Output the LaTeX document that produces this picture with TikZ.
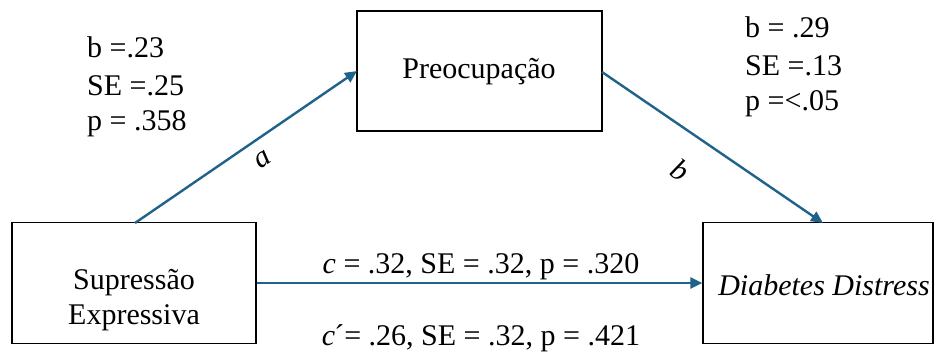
\documentclass[tikz,border=0pt]{standalone}
\usepackage{fontspec}
\setmainfont{Liberation Serif}
\usetikzlibrary{arrows.meta}
\definecolor{linkblue}{RGB}{31,99,138}
\begin{document}
\begin{tikzpicture}[x=1pt,y=-1pt,
  box/.style={draw=black,line width=1.4pt,inner sep=0pt},
  link/.style={draw=linkblue,line width=2.4pt,-{Triangle[length=12pt,width=11pt]}},
  txt/.style={inner sep=0pt,font=\fontsize{30}{35}\selectfont},
  stat/.style={txt,anchor=base west,align=left}]
\path[use as bounding box] (0,0) rectangle (935,351);
\node[box,minimum width=244pt,minimum height=121pt] (sup) at (134,283) {};
\node[box,minimum width=245pt,minimum height=120pt] (pre) at (479.5,71) {};
\node[box,minimum width=230pt,minimum height=121pt] (dia) at (818,283) {};
\node[txt,align=center] (suptxt) at (134,300) {Supressão\\Expressiva};
\node[txt] (pretxt) at (479,72) {Preocupação};
\node[txt] (diatxt) at (824,285) {\itshape Diabetes Distress};
\coordinate (aS) at (135,223);
\coordinate (aE) at (357,71);
\coordinate (bS) at (602,72);
\coordinate (bE) at (823,223);
\draw[link] (aS) -- (aE);
\draw[link] (bS) -- (bE);
\draw[link] (sup.east |- 0,283) -- (dia.west |- 0,283);
\node[txt,rotate=33.7] (la) at (263,160) {\itshape a};
\node[txt,rotate=-33.6] (lb) at (680,170) {\itshape b};
\node[txt] (ctxt) at (481,267) {\textit{c} = .32, SE = .32, p = .320};
\node[txt,anchor=base] (cptxt) at (481,345) {\textit{c}\kern-1pt´= .26, SE = .32, p = .421};
\node[stat] (s1a) at (87,57) {b =.23};
\node[stat] (s1b) at (87,95) {SE =.25};
\node[stat] (s1c) at (87,130) {p = .358};
\node[stat] (s2a) at (745,37) {b = .29};
\node[stat] (s2b) at (745,75) {SE =.13};
\node[stat] (s2c) at (745,110) {p =<.05};
\end{tikzpicture}
\end{document}
